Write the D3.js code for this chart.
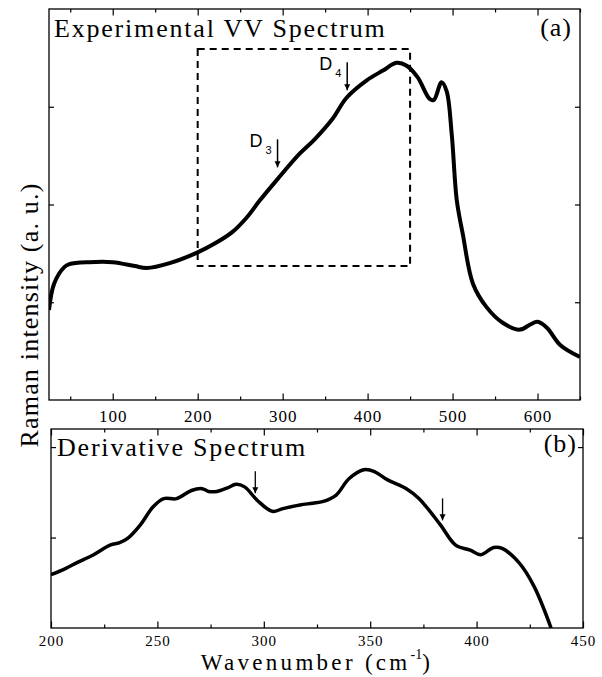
<!DOCTYPE html>
<html>
<head>
<meta charset="utf-8">
<script src="https://cdn.jsdelivr.net/npm/d3@7"></script>
<style>
  body { margin: 0; background: #fff; }
  svg text { fill: #000; }
  .serif { font-family: "Liberation Serif", "Times New Roman", serif; }
  .sans { font-family: "Liberation Sans", Arial, sans-serif; }
</style>
</head>
<body>
<div id="chart"></div>
<script>
// top panel: experimental VV spectrum (wavenumber, intensity a.u.)
const vvWave = [25, 31, 43, 49, 72, 100, 126, 140, 167, 200, 220, 241, 258, 273, 294, 320, 338, 359, 375, 399, 418, 434, 446, 459, 473, 478, 487, 493, 499, 505, 512, 524, 540, 559, 579, 591, 600, 611, 627, 650];
const vvInt = [0.92, 1.19, 1.36, 1.39, 1.41, 1.41, 1.37, 1.35, 1.40, 1.51, 1.60, 1.72, 1.87, 2.04, 2.26, 2.52, 2.67, 2.88, 3.09, 3.27, 3.37, 3.45, 3.42, 3.30, 3.08, 3.07, 3.25, 3.16, 2.72, 2.04, 1.70, 1.19, 0.95, 0.79, 0.72, 0.77, 0.80, 0.74, 0.56, 0.44];

// bottom panel: derivative spectrum
const derWave = [200, 207, 212, 220, 228, 232, 236, 242, 248, 253, 259, 266, 271, 274, 278, 283, 287, 291, 297, 304, 309, 317, 323, 328, 334, 340, 347, 352, 358, 367, 373, 383, 390, 397, 402, 408, 412, 420, 427, 435];
const derInt = [0.59, 0.66, 0.72, 0.81, 0.92, 0.94, 0.99, 1.14, 1.34, 1.43, 1.43, 1.52, 1.54, 1.51, 1.51, 1.55, 1.59, 1.56, 1.41, 1.29, 1.32, 1.36, 1.38, 1.40, 1.47, 1.65, 1.75, 1.73, 1.64, 1.54, 1.43, 1.14, 0.92, 0.86, 0.81, 0.89, 0.88, 0.72, 0.46, 0.0];

// zoom box in top panel (wavenumber / intensity)
const boxWave = [200, 450];
const boxInt = [1.37, 3.59];

// arrows: wavenumber of the feature, intensity at the arrow tip
const topArrowWave = [294, 376];
const topArrowTip = [2.38, 3.17];
const topArrowSub = ["3", "4"];
const botArrowWave = [296, 384];
const botArrowTip = [1.49, 1.19];

const topTicks = [100, 200, 300, 400, 500, 600];
const topMinor = [50, 150, 250, 350, 450, 550, 650];
const botTicks = [200, 250, 300, 350, 400, 450];
const botMinor = [225, 275, 325, 375, 425];

const W = 602, H = 677;
const svg = d3.select('#chart').append('svg')
  .attr('width', W)
  .attr('height', H);

// scales
const xTop = d3.scaleLinear().domain([25, 650]).range([49, 580]);
const yTop = d3.scaleLinear().domain([0, 4]).range([400, 9]);
const xBot = d3.scaleLinear().domain([200, 450]).range([51, 583]);
const yBot = d3.scaleLinear().domain([0, 2.2]).range([628, 429]);

function frame(x, y, major, minor, yTicks, labelSize, pad) {
  const [x0, x1] = x.range();
  const [y0, y1] = y.range();
  const g = svg.append('g');

  const bottom = g.append('g').attr('transform', `translate(0,${y0})`)
    .call(d3.axisBottom(x).tickValues(major).tickSizeInner(-6.5).tickSizeOuter(0).tickPadding(pad).tickFormat(d3.format('d')));
  bottom.selectAll('text').attr('class', 'serif').style('font-size', labelSize + 'px').style('letter-spacing', '1px').attr('font-family', null);
  g.append('g').attr('transform', `translate(0,${y0})`)
    .call(d3.axisBottom(x).tickValues(minor).tickSizeInner(-3.5).tickSizeOuter(0).tickFormat(''));
  g.append('g').attr('transform', `translate(0,${y1})`)
    .call(d3.axisTop(x).tickValues(major).tickSizeInner(-6.5).tickSizeOuter(0).tickFormat(''));
  g.append('g').attr('transform', `translate(0,${y1})`)
    .call(d3.axisTop(x).tickValues(minor).tickSizeInner(-3.5).tickSizeOuter(0).tickFormat(''));
  g.append('g').attr('transform', `translate(${x0},0)`)
    .call(d3.axisLeft(y).tickValues(yTicks).tickSizeInner(-5).tickSizeOuter(0).tickFormat(''));
  g.append('g').attr('transform', `translate(${x1},0)`)
    .call(d3.axisRight(y).tickValues(yTicks).tickSizeInner(-5).tickSizeOuter(0).tickFormat(''));

  g.selectAll('.domain').remove();
  g.selectAll('.tick line').attr('stroke', '#000').attr('stroke-width', 1.2);
  g.append('rect')
    .attr('x', x0).attr('y', y1)
    .attr('width', x1 - x0).attr('height', y0 - y1)
    .attr('fill', 'none').attr('stroke', '#000').attr('stroke-width', 1.3);
}

frame(xTop, yTop, topTicks, topMinor, [1, 2, 3], 17, 10);
frame(xBot, yBot, botTicks, botMinor, [1, 2], 15, 7);

// clip paths for curves
const defs = svg.append('defs');
defs.append('clipPath').attr('id', 'clipTop').append('rect')
  .attr('x', 49).attr('y', 9).attr('width', 531).attr('height', 391);
defs.append('clipPath').attr('id', 'clipBot').append('rect')
  .attr('x', 51).attr('y', 429).attr('width', 532).attr('height', 199);
defs.append('marker')
  .attr('id', 'head')
  .attr('viewBox', '0 0 10 10')
  .attr('refX', 10).attr('refY', 5)
  .attr('markerWidth', 6).attr('markerHeight', 7)
  .attr('markerUnits', 'userSpaceOnUse')
  .attr('orient', 'auto')
  .append('path').attr('d', 'M0,0L10,5L0,10Z').attr('fill', '#000');

// dashed box
svg.append('rect')
  .attr('x', xTop(boxWave[0]))
  .attr('y', yTop(boxInt[1]))
  .attr('width', xTop(boxWave[1]) - xTop(boxWave[0]))
  .attr('height', yTop(boxInt[0]) - yTop(boxInt[1]))
  .attr('fill', 'none')
  .attr('stroke', '#000')
  .attr('stroke-width', 2)
  .attr('stroke-dasharray', '7,5');

const topData = vvWave.map((w, i) => ({ w, v: vvInt[i] }));
const botData = derWave.map((w, i) => ({ w, v: derInt[i] }));

svg.append('path')
  .datum(topData)
  .attr('clip-path', 'url(#clipTop)')
  .attr('fill', 'none')
  .attr('stroke', '#000')
  .attr('stroke-width', 4)
  .attr('stroke-linejoin', 'round')
  .attr('d', d3.line().curve(d3.curveCatmullRom.alpha(0.5)).x(d => xTop(d.w)).y(d => yTop(d.v)));

svg.append('path')
  .datum(botData)
  .attr('clip-path', 'url(#clipBot)')
  .attr('fill', 'none')
  .attr('stroke', '#000')
  .attr('stroke-width', 3.5)
  .attr('stroke-linejoin', 'round')
  .attr('d', d3.line().curve(d3.curveCatmullRom.alpha(0.5)).x(d => xBot(d.w)).y(d => yBot(d.v)));

// arrows
topArrowWave.forEach((w, i) => {
  const ax = xTop(w), ay = yTop(topArrowTip[i]);
  svg.append('line')
    .attr('x1', ax).attr('y1', ay - 28)
    .attr('x2', ax).attr('y2', ay)
    .attr('stroke', '#000').attr('stroke-width', 1.5)
    .attr('marker-end', 'url(#head)');
  const t = svg.append('text').attr('class', 'sans')
    .attr('x', ax - 28).attr('y', ay - 20)
    .style('font-size', '18px')
    .text('D');
  t.append('tspan').attr('dx', 3).attr('dy', 7).style('font-size', '11px').text(topArrowSub[i]);
});

botArrowWave.forEach((w, i) => {
  const ax = xBot(w), ay = yBot(botArrowTip[i]);
  svg.append('line')
    .attr('x1', ax).attr('y1', ay - 22)
    .attr('x2', ax).attr('y2', ay)
    .attr('stroke', '#000').attr('stroke-width', 1.3)
    .attr('marker-end', 'url(#head)');
});

// panel titles
svg.append('text').attr('class', 'serif')
  .attr('x', 54).attr('y', 37)
  .style('font-size', '26px').style('letter-spacing', '1.8px')
  .text('Experimental VV Spectrum');
svg.append('text').attr('class', 'serif')
  .attr('x', 572).attr('y', 36).attr('text-anchor', 'end')
  .style('font-size', '26px').style('letter-spacing', '1px')
  .text('(a)');
svg.append('text').attr('class', 'serif')
  .attr('x', 57).attr('y', 456)
  .style('font-size', '26px').style('letter-spacing', '1.8px')
  .text('Derivative Spectrum');
svg.append('text').attr('class', 'serif')
  .attr('x', 577).attr('y', 452).attr('text-anchor', 'end')
  .style('font-size', '26px').style('letter-spacing', '1px')
  .text('(b)');

// axis titles
svg.append('text').attr('class', 'serif')
  .attr('transform', 'translate(38,315) rotate(-90)')
  .attr('text-anchor', 'middle')
  .style('font-size', '26px').style('letter-spacing', '1.2px')
  .text('Raman intensity (a. u.)');

const xt = svg.append('text').attr('class', 'serif')
  .attr('x', 317).attr('y', 669.5)
  .attr('text-anchor', 'middle')
  .style('font-size', '23px').style('letter-spacing', '3.3px');
xt.append('tspan').text('Wavenumber (cm');
xt.append('tspan').attr('dy', -11).style('font-size', '14px').style('letter-spacing', '0px').text('-1');
xt.append('tspan').attr('dy', 11).text(')');
</script>
</body>
</html>
